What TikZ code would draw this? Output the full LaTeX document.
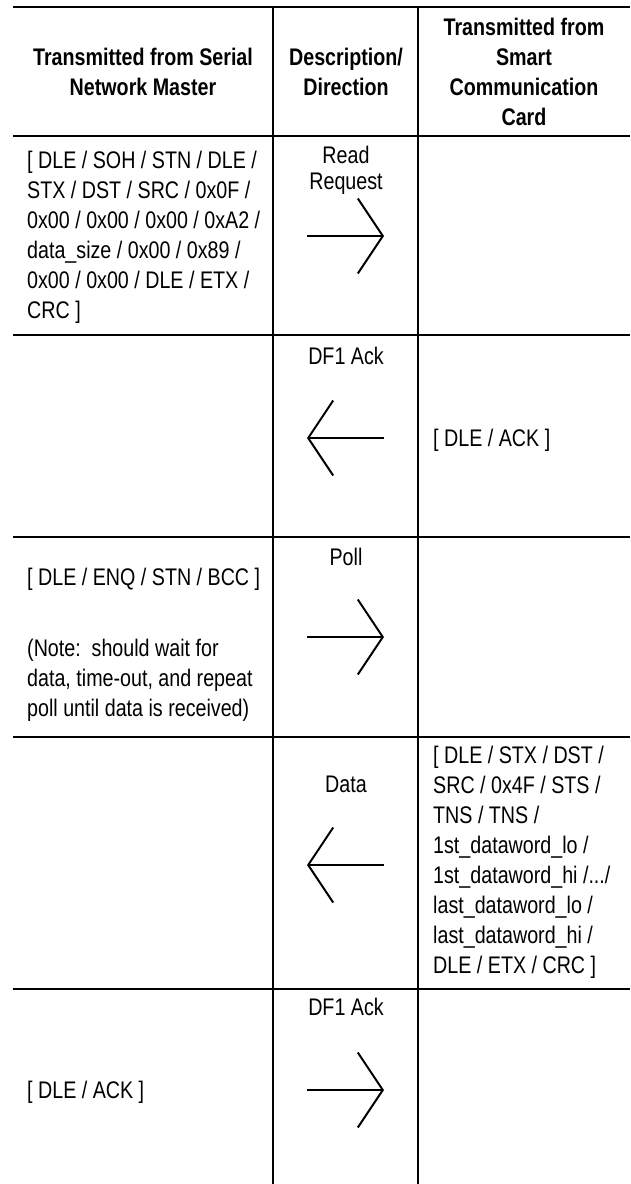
\documentclass[tikz,border=0pt]{standalone}
\usepackage{fontspec}
\setmainfont{Liberation Sans}[FakeStretch=0.82]
\usetikzlibrary{arrows.meta}
\tikzset{
    every node/.style={inner sep=0pt, font=\fontsize{24}{30}\selectfont}
}
\tikzset{
    hdr/.style={align=center, font=\fontsize{24}{30}\selectfont\bfseries},
    cell/.style={align=left, anchor=north west},
    desc/.style={align=center, anchor=base}
}
\tikzset{
    msg/.style={line width=2pt, -{Straight Barb[length=25pt, width=75pt]}},
    rule/.style={line width=2.6pt},
    colrule/.style={line width=2.2pt}
}

\begin{document}
\begin{tikzpicture}[x=1pt, y=-1pt]
  \useasboundingbox (0,0) rectangle (630,1184);

  \draw[rule] (13,7) -- (630,7);
  \draw[rule] (13,136) -- (630,136);
  \draw[rule] (13,335) -- (630,335);
  \draw[rule] (13,537) -- (630,537);
  \draw[rule] (13,737) -- (630,737);
  \draw[rule] (13,989) -- (630,989);
  \draw[colrule] (273,7) -- (273,1184);
  \draw[colrule] (418,7) -- (418,1184);

  \node (h1) [hdr] at (143, 71.5) {Transmitted from Serial\\Network Master};
  \node (h2) [hdr] at (346, 71.5) {Description/\\Direction};
  \node (h3) [hdr] at (524, 71.5) {Transmitted from\\Smart\\Communication\\Card};

  \node (m1) [cell] at (27, 151.4) {[ DLE / SOH / STN / DLE /\\STX / DST / SRC / 0x0F /\\0x00 / 0x00 / 0x00 / 0xA2 /\\data\_size / 0x00 / 0x89 /\\0x00 / 0x00 / DLE / ETX /\\CRC ]};
  \node (d1) [align=center, anchor=north, font=\fontsize{24}{25.5}\selectfont] at (346, 146.4) {Read\\Request};
  \coordinate (s1) at (307, 236);
  \coordinate (e1) at (384, 236);
  \draw[msg] (s1) -- (e1);

  \node (d2) [desc] at (346, 364.6) {DF1 Ack};
  \node (c2) [anchor=base west] at (433, 446.6) {[ DLE / ACK ]};
  \coordinate (s2) at (384, 438);
  \coordinate (e2) at (307, 438);
  \draw[msg] (s2) -- (e2);

  \node (m3) [anchor=base west] at (27, 585.6) {[ DLE / ENQ / STN / BCC ]};
  \node (n3) [cell] at (27, 638.4) {(Note:\ \ should wait for\\data, time-out, and repeat\\poll until data is received)};
  \node (d3) [desc] at (346, 565.6) {Poll};
  \coordinate (s3) at (307, 637);
  \coordinate (e3) at (384, 637);
  \draw[msg] (s3) -- (e3);

  \node (d4) [desc] at (346, 792.6) {Data};
  \node (c4) [cell] at (433, 745.4) {[ DLE / STX / DST /\\SRC / 0x4F / STS /\\TNS / TNS /\\1st\_dataword\_lo /\\1st\_dataword\_hi /.../\\last\_dataword\_lo /\\last\_dataword\_hi /\\DLE / ETX / CRC ]};
  \coordinate (s4) at (384, 865);
  \coordinate (e4) at (307, 865);
  \draw[msg] (s4) -- (e4);

  \node (m5) [anchor=base west] at (27, 1098.6) {[ DLE / ACK ]};
  \node (d5) [desc] at (346, 1015.6) {DF1 Ack};
  \coordinate (s5) at (307, 1090);
  \coordinate (e5) at (384, 1090);
  \draw[msg] (s5) -- (e5);
\end{tikzpicture}
\end{document}
